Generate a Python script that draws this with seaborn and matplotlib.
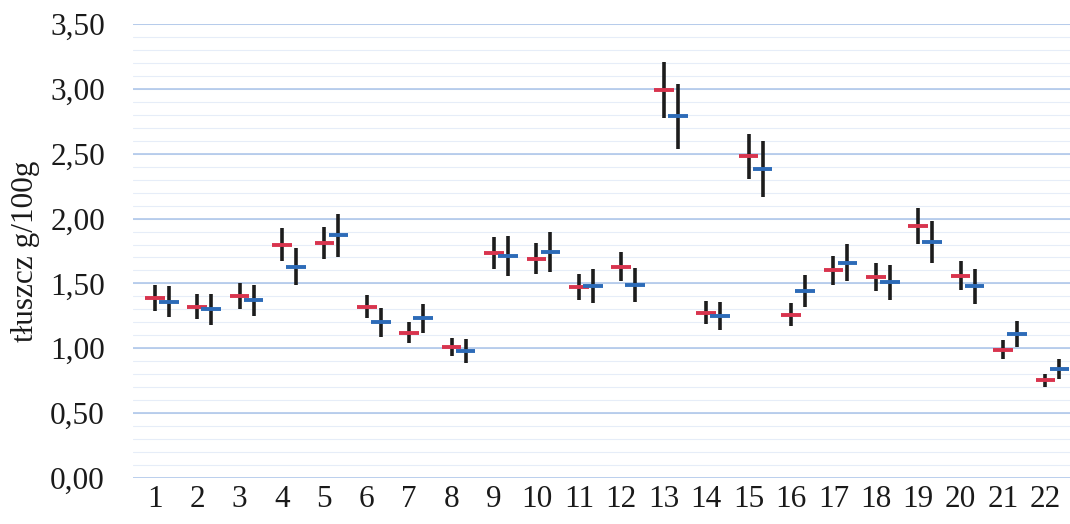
import numpy as np
import pandas as pd
import matplotlib
matplotlib.use("Agg")
import matplotlib.pyplot as plt
import seaborn as sns

# sample numbers 1..22
samples = list(range(1, 23))

# red series: mean fat content and half-length of the error bar
red_mean = [1.39, 1.32, 1.40, 1.80, 1.81, 1.32, 1.12, 1.01, 1.735, 1.69, 1.47,
            1.63, 2.99, 1.275, 2.48, 1.26, 1.60, 1.55, 1.945, 1.56, 0.99, 0.755]
red_err = [0.10, 0.095, 0.10, 0.125, 0.125, 0.09, 0.08, 0.07, 0.125, 0.12, 0.10,
           0.115, 0.215, 0.09, 0.175, 0.09, 0.11, 0.11, 0.14, 0.11, 0.07, 0.05]

# blue series
blue_mean = [1.36, 1.30, 1.37, 1.63, 1.87, 1.20, 1.23, 0.98, 1.71, 1.74, 1.48,
             1.49, 2.79, 1.25, 2.385, 1.44, 1.66, 1.51, 1.82, 1.48, 1.11, 0.84]
blue_err = [0.12, 0.12, 0.12, 0.145, 0.165, 0.11, 0.11, 0.09, 0.155, 0.155, 0.13,
            0.13, 0.25, 0.11, 0.215, 0.125, 0.145, 0.135, 0.16, 0.135, 0.10, 0.08]

y_ticks = [0.0, 0.5, 1.0, 1.5, 2.0, 2.5, 3.0, 3.5]
y_label = "tłuszcz g/100g"

RED = "#d8344e"
BLUE = "#2d6bb8"
OFFSET = 0.33


def build_frame():
    x = np.array(samples, dtype=float)
    red = pd.DataFrame({"x": x, "mean": red_mean, "err": red_err, "grp": "a"})
    blue = pd.DataFrame({"x": x + OFFSET, "mean": blue_mean, "err": blue_err, "grp": "b"})
    return pd.concat([red, blue], ignore_index=True)


def main():
    sns.set_style("white")
    plt.rcParams["font.family"] = ["Liberation Serif", "DejaVu Serif"]

    df = build_frame()

    fig = plt.figure(figsize=(10.7, 5.24), dpi=100)
    ax = fig.add_axes([0.124, 0.0878, 0.876, 0.8664])

    # gridlines: major every 0.5, very faint minor every 0.1
    for v in np.arange(0, 3.51, 0.1):
        ax.axhline(v, color="#e6edf8", lw=0.8, zorder=0)
    for v in y_ticks:
        ax.axhline(v, color="#a9c3e8", lw=1.1, zorder=0)

    # error bars
    ax.vlines(df["x"], df["mean"] - df["err"], df["mean"] + df["err"],
              color="#1c1c1c", lw=2.6, zorder=2)

    # means as horizontal dashes
    sns.scatterplot(data=df, x="x", y="mean", hue="grp",
                    palette={"a": RED, "b": BLUE}, marker="_", s=200,
                    linewidth=2.8, legend=False, ax=ax, zorder=3)

    ax.set_xlim(0.48, 22.58)
    ax.set_ylim(0, 3.5)
    ax.set_yticks(y_ticks)
    ax.set_yticklabels([f"{v:.2f}".replace(".", ",") for v in y_ticks])
    ax.set_xticks(samples)
    ax.set_xticklabels([str(s) for s in samples])
    ax.tick_params(axis="both", length=0, labelsize=22.5, colors="#1a1a1a")
    ax.tick_params(axis="y", pad=20)
    ax.tick_params(axis="x", pad=5)
    ax.set_xlabel("")
    ax.set_ylabel(y_label, fontsize=22.5, color="#1a1a1a", labelpad=7)
    sns.despine(ax=ax, left=True, bottom=True)

    fig.savefig("out.png", dpi=100)


if __name__ == "__main__":
    main()
